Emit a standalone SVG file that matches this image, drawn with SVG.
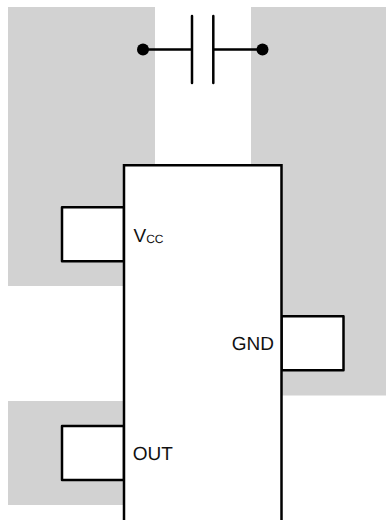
<svg xmlns="http://www.w3.org/2000/svg" width="386" height="520" viewBox="0 0 386 520">
<style>
.plane{fill:#d2d2d2;stroke:none}
.ln{fill:none;stroke:#000;stroke-width:2.500;stroke-linecap:round;stroke-linejoin:round}
.box{fill:#fff;stroke:#000;stroke-width:2.500;stroke-linejoin:round}
.dot{fill:#000;stroke:none}
text{font-family:"Liberation Sans",Arial,sans-serif;font-size:19px;fill:#111;text-rendering:geometricPrecision}
</style>
<rect width="386" height="520" fill="#fff"/>
<g id="planes">
<rect class="plane" x="8" y="7" width="147" height="279"/>
<rect class="plane" x="251" y="7" width="135" height="388.500"/>
<rect class="plane" x="8" y="401" width="116" height="104"/>
</g>
<g id="capacitor">
<path class="ln" d="M143 49.500H192M192 16V83M213.300 16V83M213.300 49.500H262.500"/>
<circle class="dot" cx="143" cy="49.500" r="6"/>
<circle class="dot" cx="262.500" cy="49.500" r="6"/>
</g>
<g id="pad-vcc"><rect class="box" x="62" y="207.300" width="62" height="54"/></g>
<g id="pad-gnd"><rect class="box" x="281.500" y="316.300" width="62" height="54"/></g>
<g id="pad-out"><rect class="box" x="62" y="426" width="62" height="54"/></g>
<g id="chip">
<path d="M124 165.300H281.500V522H124Z" fill="#fff" stroke="#000" stroke-width="2.500"/>
<text x="133.500" y="241.500">V<tspan font-size="12" dy="1.200">CC</tspan></text>
<text x="231.700" y="349.500">GND</text>
<text x="132.800" y="460">OUT</text>
</g>
</svg>
